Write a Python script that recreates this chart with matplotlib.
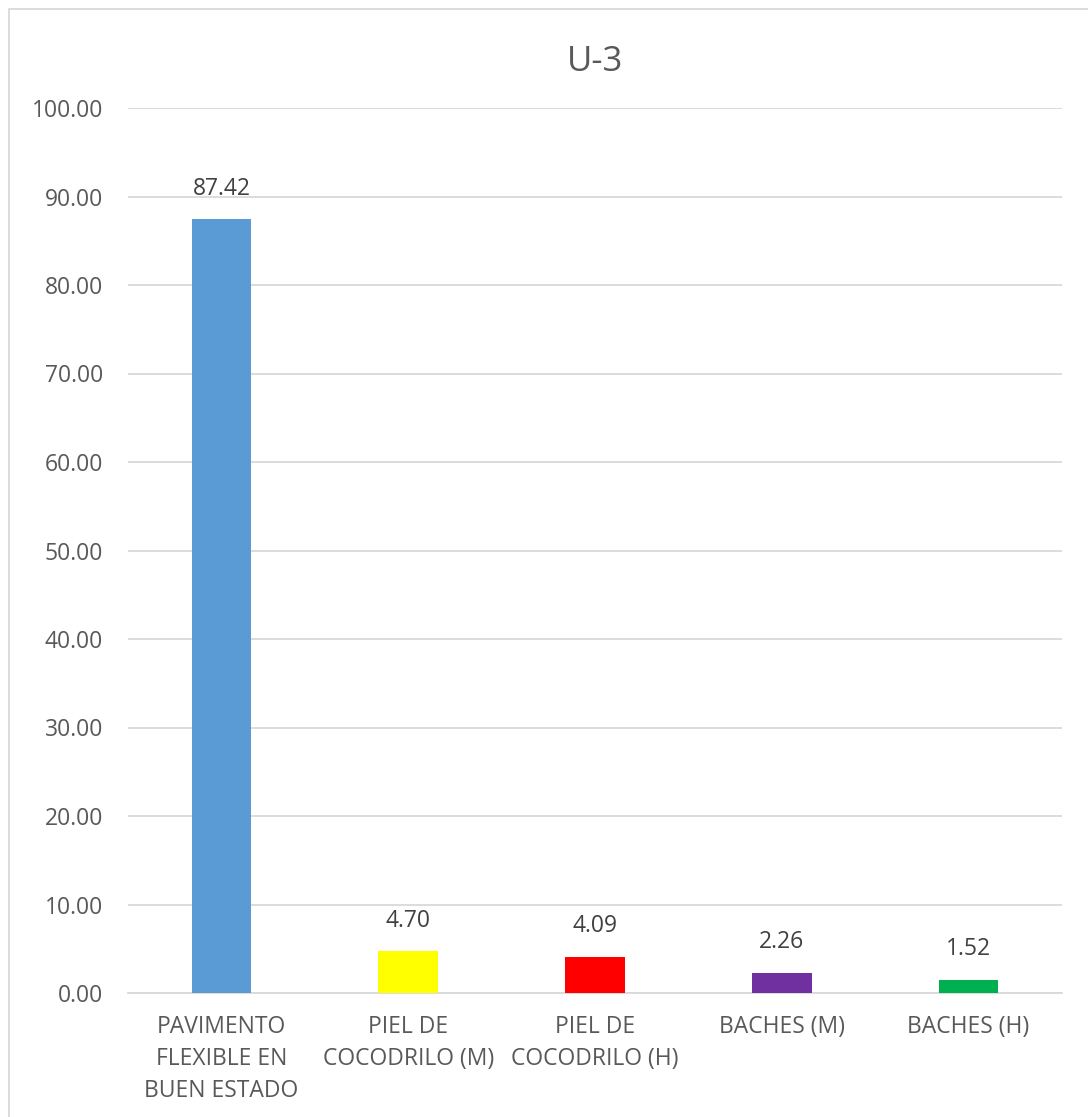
import matplotlib.pyplot as plt
from matplotlib.patches import Rectangle

categories = ['PAVIMENTO\nFLEXIBLE EN\nBUEN ESTADO', 'PIEL DE\nCOCODRILO (M)',
              'PIEL DE\nCOCODRILO (H)', 'BACHES (M)', 'BACHES (H)']
values = [87.42, 4.70, 4.09, 2.26, 1.52]
colors = ['#5B9BD5', '#FFFF00', '#FF0000', '#7030A0', '#00B050']
yticks = [0, 10, 20, 30, 40, 50, 60, 70, 80, 90, 100]

plt.rcParams['font.family'] = ['Open Sans', 'DejaVu Sans']
TXT = '#595959'
FS = 16.5

W, H = 1088, 1117
fig = plt.figure(figsize=(W / 100, H / 100), dpi=100)
ax = fig.add_axes([128 / W, 1 - 993 / H, (1062 - 128) / W, (993 - 108) / H])

x = range(len(categories))
bars = ax.bar(x, values, width=0.32, color=colors, zorder=3)
for b, v in zip(bars, values):
    ax.text(b.get_x() + b.get_width() / 2, v + 2.1, f'{v:.2f}',
            ha='center', va='bottom', fontsize=FS, color='#404040')

ax.set_xlim(-0.5, len(categories) - 0.5)
ax.set_ylim(0, 100)
ax.set_yticks(yticks)
ax.set_yticklabels([f'{t:.2f}' for t in yticks], fontsize=FS, color=TXT)
ax.set_xticks(list(x))
ax.set_xticklabels(categories, fontsize=FS, color=TXT, linespacing=1.45)
ax.tick_params(axis='both', length=0)
ax.tick_params(axis='y', pad=18)
ax.tick_params(axis='x', pad=16)
ax.grid(axis='y', color='#D9D9D9', linewidth=1.3, zorder=0)
for s in ['top', 'right', 'left']:
    ax.spines[s].set_visible(False)
ax.spines['bottom'].set_color('#D9D9D9')
ax.spines['bottom'].set_linewidth(1.3)

fig.text(0.5 * (128 + 1062) / W, 1 - 62 / H, 'U-3', ha='center', va='center',
         fontsize=25, color=TXT)

fig.patches.append(Rectangle((9 / W, -0.1), 1.2, 1 - 9 / H + 0.1,
                             transform=fig.transFigure, fill=False,
                             edgecolor='#D9D9D9', linewidth=1.3))

fig.savefig('out.png', dpi=100)
